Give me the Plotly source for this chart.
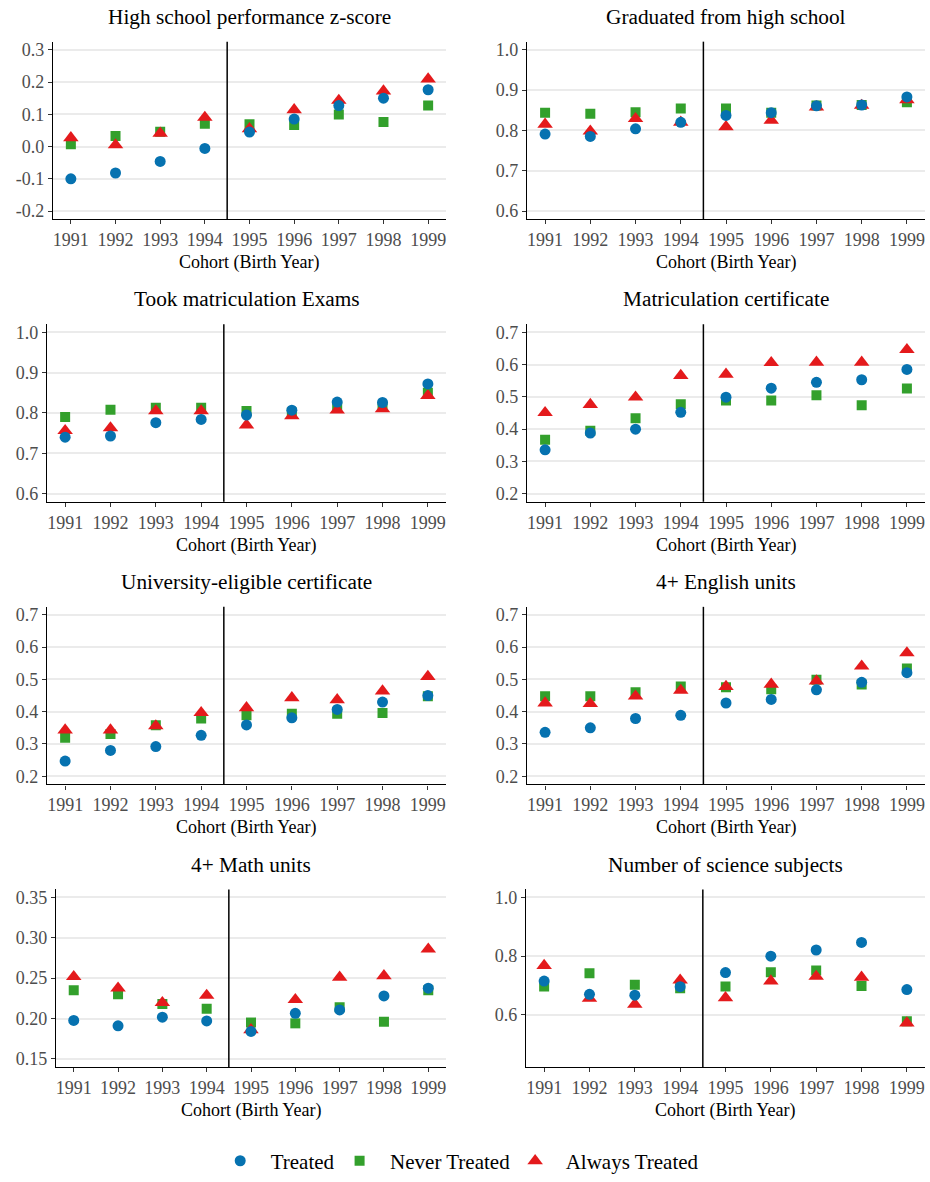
import plotly.graph_objects as go

# Birth cohorts on the x axis
years = [1991, 1992, 1993, 1994, 1995, 1996, 1997, 1998, 1999]

# Outcome panels, in reading order
titles = [
    "High school performance z-score",
    "Graduated from high school",
    "Took matriculation Exams",
    "Matriculation certificate",
    "University-eligible certificate",
    "4+ English units",
    "4+ Math units",
    "Number of science subjects",
]

# Group means per outcome
treated = [
    [-0.100, -0.082, -0.046, -0.006, 0.045, 0.085, 0.127, 0.150, 0.176],
    [0.791, 0.785, 0.804, 0.820, 0.837, 0.844, 0.861, 0.863, 0.883],
    [0.740, 0.743, 0.776, 0.784, 0.795, 0.807, 0.827, 0.826, 0.872],
    [0.336, 0.388, 0.400, 0.452, 0.499, 0.527, 0.545, 0.553, 0.585],
    [0.247, 0.280, 0.292, 0.327, 0.359, 0.381, 0.407, 0.430, 0.450],
    [0.336, 0.350, 0.379, 0.389, 0.427, 0.438, 0.468, 0.491, 0.521],
    [0.1976, 0.191, 0.2016, 0.197, 0.184, 0.2065, 0.2106, 0.228, 0.2376],
    [0.715, 0.670, 0.667, 0.696, 0.744, 0.800, 0.821, 0.847, 0.686],
]
never_treated = [
    [0.007, 0.033, 0.046, 0.071, 0.069, 0.067, 0.099, 0.076, 0.127],
    [0.844, 0.841, 0.845, 0.854, 0.854, 0.844, 0.862, 0.863, 0.870],
    [0.790, 0.808, 0.813, 0.813, 0.805, 0.801, 0.815, 0.816, 0.850],
    [0.367, 0.395, 0.434, 0.477, 0.489, 0.489, 0.505, 0.474, 0.526],
    [0.319, 0.331, 0.358, 0.379, 0.389, 0.394, 0.394, 0.396, 0.448],
    [0.448, 0.448, 0.460, 0.478, 0.476, 0.470, 0.499, 0.484, 0.534],
    [0.235, 0.230, 0.218, 0.212, 0.195, 0.194, 0.214, 0.196, 0.235],
    [0.697, 0.742, 0.703, 0.691, 0.697, 0.745, 0.751, 0.698, 0.578],
]
always_treated = [
    [0.027, 0.005, 0.041, 0.090, 0.055, 0.114, 0.143, 0.172, 0.209],
    [0.815, 0.798, 0.829, 0.820, 0.809, 0.825, 0.858, 0.862, 0.876],
    [0.756, 0.763, 0.805, 0.805, 0.770, 0.793, 0.807, 0.810, 0.843],
    [0.451, 0.476, 0.499, 0.566, 0.570, 0.606, 0.607, 0.607, 0.646],
    [0.343, 0.343, 0.356, 0.397, 0.412, 0.443, 0.437, 0.464, 0.509],
    [0.427, 0.425, 0.448, 0.466, 0.478, 0.485, 0.495, 0.541, 0.582],
    [0.2518, 0.2376, 0.2196, 0.2286, 0.186, 0.2233, 0.251, 0.253, 0.286],
    [0.768, 0.656, 0.636, 0.718, 0.658, 0.715, 0.731, 0.728, 0.572],
]

# Y-axis ticks per panel
y_tickvals = [
    [-0.2, -0.1, 0.0, 0.1, 0.2, 0.3],
    [0.6, 0.7, 0.8, 0.9, 1.0],
    [0.6, 0.7, 0.8, 0.9, 1.0],
    [0.2, 0.3, 0.4, 0.5, 0.6, 0.7],
    [0.2, 0.3, 0.4, 0.5, 0.6, 0.7],
    [0.2, 0.3, 0.4, 0.5, 0.6, 0.7],
    [0.15, 0.20, 0.25, 0.30, 0.35],
    [0.6, 0.8, 1.0],
]
y_ticktext = [
    ["-0.2", "-0.1", "0.0", "0.1", "0.2", "0.3"],
    ["0.6", "0.7", "0.8", "0.9", "1.0"],
    ["0.6", "0.7", "0.8", "0.9", "1.0"],
    ["0.2", "0.3", "0.4", "0.5", "0.6", "0.7"],
    ["0.2", "0.3", "0.4", "0.5", "0.6", "0.7"],
    ["0.2", "0.3", "0.4", "0.5", "0.6", "0.7"],
    ["0.15", "0.20", "0.25", "0.30", "0.35"],
    ["0.6", "0.8", "1.0"],
]
# Axis limits before padding
y_limits = [
    (-0.2, 0.3), (0.6, 1.0), (0.6, 1.0), (0.2, 0.7),
    (0.2, 0.7), (0.2, 0.7), (0.15, 0.35), (0.45, 1.0),
]

cutoff = 1994.5
x_label = "Cohort (Birth Year)"
series_names = ["Treated", "Never Treated", "Always Treated"]

# ---- styling ----
W, H = 930, 1182
FONT = "Liberation Serif"
COL_BLUE = "#0672B0"
COL_GREEN = "#33A02C"
COL_RED = "#E41A1C"
NBSP = "\u00a0"

# Panel boxes in pixels: (left, top, right, bottom)
row_tb = [(40, 219), (325, 504), (610, 789), (895, 1074)]
left_px = [53, 527, 47, 527, 47, 527, 56, 526]
right_px = [446, 925, 446, 925, 446, 925, 446, 925]

fig = go.Figure()
annotations = []
shapes = []

for i in range(8):
    r = i // 2
    top, bot = row_tb[r]
    lft, rgt = left_px[i], right_px[i]
    ax = "" if i == 0 else str(i + 1)
    xa, ya = "x" + ax, "y" + ax

    lo, hi = y_limits[i]
    pad = 0.05 * (hi - lo)

    axis_common = dict(
        showline=True, linecolor="black", linewidth=1.4, mirror=False,
        ticks="outside", ticklen=4, tickwidth=1.1, tickcolor="#333333",
        zeroline=False,
        tickfont=dict(family=FONT, size=18, color="#4D4D4D"),
    )
    fig.layout["xaxis" + ax] = dict(
        domain=[lft / W, rgt / W], anchor=ya,
        range=[1990.6, 1999.4], tickvals=years,
        ticktext=[str(y) for y in years],
        showgrid=False, **axis_common,
    )
    fig.layout["yaxis" + ax] = dict(
        domain=[1 - bot / H, 1 - top / H], anchor=xa,
        range=[lo - pad, hi + pad], tickvals=y_tickvals[i],
        ticktext=y_ticktext[i],
        showgrid=True, gridcolor="#EBEBEB", gridwidth=1.6,
        **axis_common,
    )

    # draw order: never treated, always treated, treated on top
    for name, vals, sym, size, col, rank in [
        (series_names[1], never_treated[i], "square", 10, COL_GREEN, 2),
        (series_names[2], always_treated[i], "triangle-up", 13.5, COL_RED, 3),
        (series_names[0], treated[i], "circle", 11, COL_BLUE, 1),
    ]:
        fig.add_trace(go.Scatter(
            x=years, y=vals, mode="markers", name=NBSP * 2 + name,
            xaxis=xa, yaxis=ya, legendgroup=name, legendrank=rank,
            showlegend=(i == 0),
            marker=dict(symbol=sym, size=size, color=col, line=dict(width=0)),
        ))

    shapes.append(dict(
        type="line", xref=xa, yref=ya + " domain",
        x0=cutoff, x1=cutoff, y0=0, y1=1,
        line=dict(color="black", width=1.5),
    ))

    cx = (lft + rgt) / 2 / W
    annotations.append(dict(
        text=titles[i], xref="paper", yref="paper",
        x=cx, y=1 - (top - 25) / H, xanchor="center", yanchor="middle",
        showarrow=False, font=dict(family=FONT, size=21.3, color="black"),
    ))
    annotations.append(dict(
        text=x_label, xref="paper", yref="paper",
        x=cx, y=1 - (bot + 44) / H, xanchor="center", yanchor="middle",
        showarrow=False, font=dict(family=FONT, size=18, color="black"),
    ))

fig.update_layout(
    width=W, height=H,
    margin=dict(l=0, r=0, t=0, b=0),
    paper_bgcolor="white", plot_bgcolor="white",
    annotations=annotations, shapes=shapes,
    showlegend=True,
    legend=dict(
        orientation="h", x=0.497, xanchor="center",
        y=1 - 1169 / H, yanchor="middle",
        font=dict(family=FONT, size=21, color="black"),
        bgcolor="rgba(0,0,0,0)",
    ),
)

fig.write_html("out.html")
